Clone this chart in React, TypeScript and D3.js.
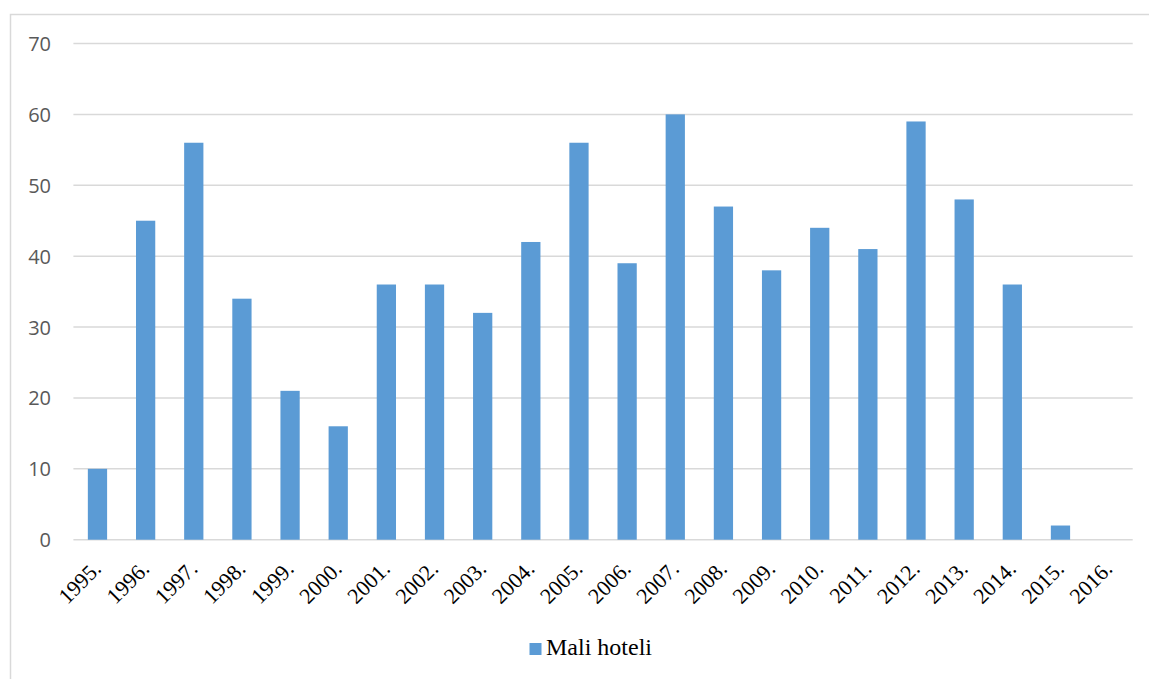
import React, { useEffect, useRef } from 'react';
import * as d3 from 'd3';

const years = ['1995.', '1996.', '1997.', '1998.', '1999.', '2000.', '2001.', '2002.', '2003.', '2004.', '2005.',
  '2006.', '2007.', '2008.', '2009.', '2010.', '2011.', '2012.', '2013.', '2014.', '2015.', '2016.'];
const maliHoteli = [10, 45, 56, 34, 21, 16, 36, 36, 32, 42, 56, 39, 60, 47, 38, 44, 41, 59, 48, 36, 2, 0];
const yTicks = [0, 10, 20, 30, 40, 50, 60, 70];
const seriesName = 'Mali hoteli';

const W = 1149;
const H = 679;

const App: React.FC = () => {
  const ref = useRef<SVGSVGElement>(null);

  useEffect(() => {
    const svg = d3.select(ref.current);
    svg.selectAll('*').remove();

    // okvir grafikona
    svg.append('rect')
      .attr('x', 10.5).attr('y', 14.5)
      .attr('width', W + 20).attr('height', H + 20)
      .attr('fill', '#fff')
      .attr('stroke', '#d9d9d9')
      .attr('stroke-width', 1.5);

    const x = d3.scaleBand<string>()
      .domain(years)
      .range([73.4, 1132.7])
      .paddingInner(0.6)
      .paddingOuter(0.3);

    const y = d3.scaleLinear().domain([0, 70]).range([539.7, 43.5]);

    // mreža
    svg.append('g').selectAll('line')
      .data(yTicks)
      .enter()
      .append('line')
      .attr('x1', 73.4).attr('x2', 1132.7)
      .attr('y1', d => y(d)).attr('y2', d => y(d))
      .attr('stroke', '#d9d9d9')
      .attr('stroke-width', 1.5);

    svg.append('g').selectAll('text')
      .data(yTicks)
      .enter()
      .append('text')
      .attr('x', 51)
      .attr('y', d => y(d) + 7.5)
      .attr('text-anchor', 'end')
      .style('font-family', '"Open Sans", sans-serif')
      .style('font-size', '20px')
      .attr('fill', '#595959')
      .text(d => d);

    // stupci
    svg.append('g').selectAll('rect')
      .data(maliHoteli)
      .enter()
      .append('rect')
      .attr('x', (_, i) => x(years[i])!)
      .attr('y', d => y(d))
      .attr('width', x.bandwidth())
      .attr('height', d => y(0) - y(d))
      .attr('fill', '#5b9bd5');

    // oznake godina
    svg.append('g').selectAll('text')
      .data(years)
      .enter()
      .append('text')
      .attr('transform', d => `translate(${x(d)! + x.bandwidth() / 2 + 5},${570}) rotate(-45)`)
      .attr('text-anchor', 'end')
      .style('font-family', '"Liberation Serif", "Times New Roman", serif')
      .style('font-size', '22px')
      .attr('fill', '#000')
      .text(d => d);

    // legenda
    svg.append('rect')
      .attr('x', 529.5).attr('y', 643)
      .attr('width', 12).attr('height', 12)
      .attr('fill', '#5b9bd5');
    svg.append('text')
      .attr('x', 546).attr('y', 655)
      .style('font-family', '"Liberation Serif", "Times New Roman", serif')
      .style('font-size', '24px')
      .attr('fill', '#000')
      .text(seriesName);
  }, []);

  return (
    <svg
      ref={ref}
      width={W}
      height={H}
      style={{ position: 'absolute', left: 0, top: 0, display: 'block', background: '#fff' }}
    />
  );
};

export default App;
